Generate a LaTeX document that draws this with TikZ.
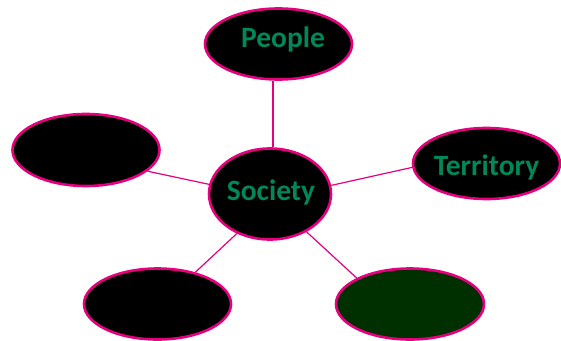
\documentclass[tikz,border=0pt]{standalone}
\usepackage{fontspec}
\setmainfont{Carlito}
\usetikzlibrary{shapes.geometric}
\definecolor{mag}{HTML}{E6007E}
\definecolor{txt}{HTML}{00875A}
\definecolor{dkg}{HTML}{002F00}
\tikzset{
  bub/.style={ellipse, draw=mag, line width=2.6pt, fill=black, inner sep=0pt},
  lbl/.style={anchor=base, inner sep=0pt, text=txt, font=\fontsize{29.5}{34}\selectfont\bfseries},
  link/.style={draw=mag, line width=1.2pt}
}
\begin{document}
\begin{tikzpicture}[x=1pt,y=-1pt]
\useasboundingbox (0,0) rectangle (561,340);
\node[bub, minimum width=147pt, minimum height=71pt] (people) at (278.5,44) {};
\node[bub, minimum width=122pt, minimum height=91pt] (society) at (270,194) {};
\node[bub, minimum width=147pt, minimum height=71pt] (territory) at (486.5,163.5) {};
\node[bub, minimum width=147pt, minimum height=72pt] (left) at (86,150) {};
\node[bub, minimum width=147pt, minimum height=71pt] (bl) at (157.5,304) {};
\node[bub, fill=dkg, minimum width=148pt, minimum height=71pt] (br) at (410,304) {};
\node[lbl] (peopleT) at (283,47) {People};
\node[lbl] (societyT) at (271,200) {Society};
\node[lbl] (territoryT) at (486.5,175) {Territory};
\draw[link] (people.south -| 273,0) -- (society.north -| 273,0);
\draw[link] (left.341) -- (society.171);
\draw[link] (society.8) -- (territory.183.5);
\draw[link] (bl.40) -- (society.230);
\draw[link] (society.314) -- (br.154);
\end{tikzpicture}
\end{document}
